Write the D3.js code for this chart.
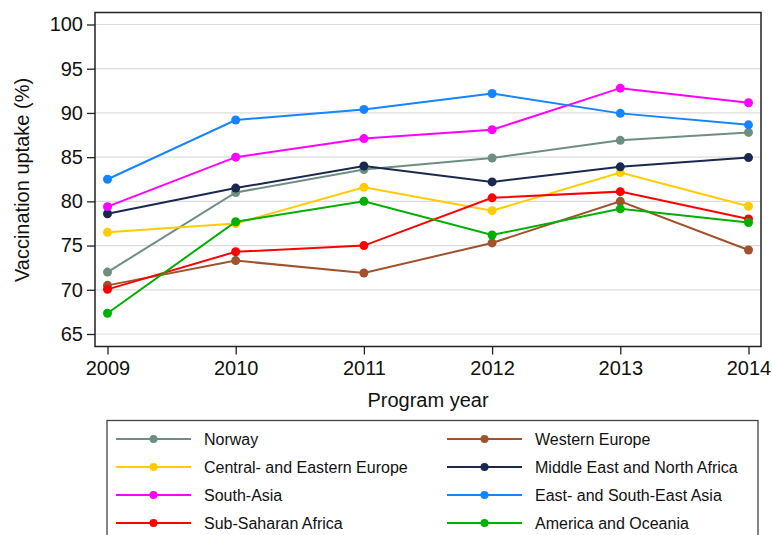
<!DOCTYPE html>
<html>
<head>
<meta charset="utf-8">
<script src="https://cdn.jsdelivr.net/npm/d3@7"></script>
<style>
  body { margin: 0; background: #fff; }
  svg { font-family: "Liberation Sans", Arial, sans-serif; }
</style>
</head>
<body>
<div id="chart-area"></div>
<script>
var years = [2009, 2010, 2011, 2012, 2013, 2014];
var yTicks = [65, 70, 75, 80, 85, 90, 95, 100];

var regions = ['Norway', 'Western Europe', 'Central- and Eastern Europe', 'Middle East and North Africa',
  'South-Asia', 'East- and South-East Asia', 'Sub-Saharan Africa', 'America and Oceania'];
var colors = ['#6e8f80', '#a0522d', '#ffcc00', '#1a2850', '#ff00ff', '#1584ff', '#ff0000', '#00b000'];

var norway = [72.0, 81.0, 83.6, 84.9, 86.9, 87.8];
var westernEurope = [70.5, 73.3, 71.9, 75.3, 80.0, 74.5];
var centralEastEurope = [76.5, 77.5, 81.6, 78.95, 83.25, 79.45];
var mena = [78.6, 81.5, 84.0, 82.2, 83.9, 84.95];
var southAsia = [79.4, 85.0, 87.1, 88.1, 92.8, 91.15];
var eastAsia = [82.5, 89.2, 90.4, 92.2, 89.95, 88.65];
var subSaharan = [70.05, 74.3, 75.0, 80.4, 81.1, 78.0];
var america = [67.35, 77.7, 80.0, 76.2, 79.15, 77.6];

var seriesValues = [norway, westernEurope, centralEastEurope, mena, southAsia, eastAsia, subSaharan, america];

var svg = d3.select("#chart-area").append("svg")
    .attr("width", 772)
    .attr("height", 535)

var x = d3.scaleLinear()
    .domain([2009, 2014])
    .range([107.5, 748.5])

var y = d3.scaleLinear()
    .domain([65, 100])
    .range([334, 24.5])

// gridlines
svg.selectAll('line.grid')
    .data(yTicks)
    .enter()
    .append('line')
    .attr('class', 'grid')
    .attr('x1', 95)
    .attr('x2', 761)
    .attr('y1', d => y(d))
    .attr('y2', d => y(d))
    .attr('stroke', '#dcdcdc')
    .attr('stroke-width', 1.2)

// axes
var yAxis = d3.axisLeft(y).tickValues(yTicks).tickSize(8).tickPadding(4)
var gy = svg.append('g').attr('transform', 'translate(95,0)').call(yAxis)
gy.select('.domain').remove()
gy.selectAll('text').attr('font-size', 20).attr('fill', '#111').attr('font-family', '"Liberation Sans", Arial, sans-serif')
gy.selectAll('line').attr('stroke', '#222').attr('stroke-width', 1.3)

var xAxis = d3.axisBottom(x).tickValues(years).tickFormat(d3.format('d')).tickSize(8).tickPadding(6)
var gx = svg.append('g').attr('transform', 'translate(0,346.5)').call(xAxis)
gx.select('.domain').remove()
gx.selectAll('text').attr('font-size', 20).attr('fill', '#111').attr('font-family', '"Liberation Sans", Arial, sans-serif')
gx.selectAll('line').attr('stroke', '#222').attr('stroke-width', 1.3)

// lines and points
var line = d3.line()
    .x((d, i) => x(years[i]))
    .y(d => y(d))

var groups = svg.selectAll('g.series')
    .data(seriesValues)
    .enter()
    .append('g')
    .attr('class', 'series')

groups.append('path')
    .attr('d', d => line(d))
    .attr('fill', 'none')
    .attr('stroke', (d, i) => colors[i])
    .attr('stroke-width', 2)

groups.each(function (vals, i) {
  d3.select(this).selectAll('circle')
      .data(vals)
      .enter()
      .append('circle')
      .attr('cx', (d, j) => x(years[j]))
      .attr('cy', d => y(d))
      .attr('r', 4.5)
      .attr('fill', colors[i])
})

// frame
svg.append('rect')
    .attr('x', 95)
    .attr('y', 12.5)
    .attr('width', 666)
    .attr('height', 334)
    .attr('fill', 'none')
    .attr('stroke', '#222')
    .attr('stroke-width', 1.5)

// axis titles
svg.append('text')
    .attr('x', 428)
    .attr('y', 407)
    .attr('text-anchor', 'middle')
    .attr('font-size', 20)
    .attr('fill', '#111')
    .text('Program year')

svg.append('text')
    .attr('transform', 'translate(29,180) rotate(-90)')
    .attr('text-anchor', 'middle')
    .attr('font-size', 20)
    .attr('fill', '#111')
    .text('Vaccination uptake (%)')

// legend
svg.append('rect')
    .attr('x', 107)
    .attr('y', 420.5)
    .attr('width', 651)
    .attr('height', 130)
    .attr('fill', 'none')
    .attr('stroke', '#444')
    .attr('stroke-width', 1.3)

var legend = svg.selectAll('g.legend')
    .data(regions)
    .enter()
    .append('g')
    .attr('class', 'legend')
    .attr('transform', (d, i) => 'translate(' + (i % 2 === 0 ? 116 : 447) + ',' + (439 + Math.floor(i / 2) * 28) + ')')

legend.append('line')
    .attr('x1', 0)
    .attr('x2', 75)
    .attr('stroke', (d, i) => colors[i])
    .attr('stroke-width', 2)

legend.append('circle')
    .attr('cx', 37.5)
    .attr('r', 4)
    .attr('fill', (d, i) => colors[i])

legend.append('text')
    .attr('x', 88)
    .attr('y', 6)
    .attr('font-size', 16)
    .attr('fill', '#111')
    .text(d => d)
</script>
</body>
</html>
